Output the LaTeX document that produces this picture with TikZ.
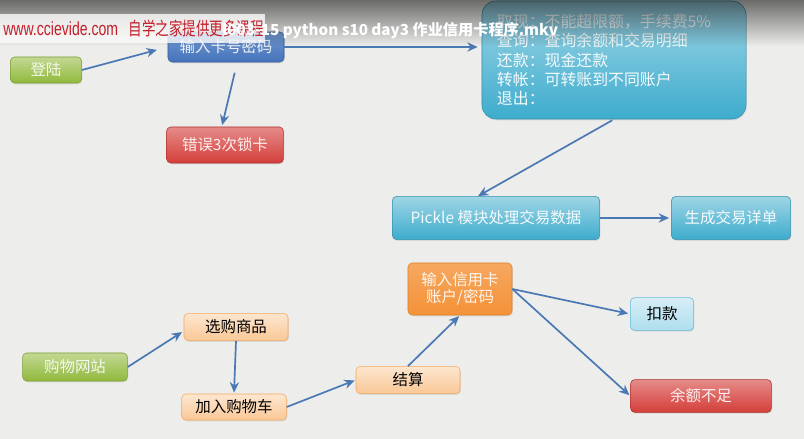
\documentclass[tikz,border=0pt]{standalone}
\usepackage{fontspec}
\setmainfont{Noto Sans CJK SC}
\setsansfont{Liberation Sans}
\usepackage{tikz}
\usetikzlibrary{arrows.meta,positioning,shadows,fadings}
\definecolor{corfundo}{RGB}{237,237,235}
\definecolor{corseta}{RGB}{74,120,180}
\definecolor{corverde}{RGB}{145,185,60}
\definecolor{corazul}{RGB}{68,116,188}
\definecolor{corvermelho}{RGB}{212,62,58}
\definecolor{corciano}{RGB}{62,172,205}
\definecolor{corlaranja}{RGB}{244,146,56}
\definecolor{corpessego}{RGB}{250,200,150}
\definecolor{corceleste}{RGB}{175,222,238}
\definecolor{cormarca}{RGB}{196,30,42}

\begin{document}
\begin{tikzpicture}[x=0.025cm, y=-0.025cm,
  caixa/.style={rectangle, rounded corners=3pt, align=center, inner sep=0pt,
                font=\fontsize{11}{13.5}\selectfont,
                drop shadow={opacity=0.2, shadow xshift=0.6pt, shadow yshift=-0.9pt}},
  verde/.style={caixa, draw=corverde!85!black, top color=corverde!55!white,
                bottom color=corverde, text=white!90!corverde},
  azul/.style={caixa, draw=corazul!80!black, top color=corazul!75!white,
               bottom color=corazul, text=white!90!corazul},
  vermelho/.style={caixa, draw=corvermelho!80!black, top color=corvermelho!60!white,
                   bottom color=corvermelho, text=white!92!corvermelho},
  ciano/.style={caixa, draw=corciano!85!black, top color=corciano!50!white,
                bottom color=corciano, text=white!95!corciano},
  laranja/.style={caixa, draw=corlaranja!90!black, top color=corlaranja!80!white,
                  bottom color=corlaranja, text=white!92!corlaranja},
  pessego/.style={caixa, draw=corlaranja!80!white, top color=corpessego!45!white,
                  bottom color=corpessego, text=black},
  celeste/.style={caixa, draw=corciano!80!white, top color=corceleste!50!white,
                  bottom color=corceleste, text=black},
  seta/.style={-{Stealth[length=2.6mm, width=2.3mm]}, line width=1.2pt, color=corseta}
]
  \fill[corfundo] (0,0) rectangle (804,439);
  \useasboundingbox (0,0) rectangle (804,439);

  % login e cartao
  \node[verde, minimum width=1.78cm, minimum height=0.65cm] (login) at (46,70) {登陆};
  \node[azul, minimum width=2.9cm, minimum height=0.75cm] (cartao) at (226,47) {输入卡号密码};
  \node[vermelho, minimum width=2.92cm, minimum height=0.9cm] (bloqueio) at (225,145) {错误3次锁卡};
  \node[ciano, rounded corners=10pt, minimum width=6.6cm, minimum height=2.95cm,
        text width=5.85cm, inner xsep=0.375cm, align=left,
        font=\fontsize{11.3}{13.6}\selectfont] (menu) at (614,60)
        {取现：不能超限额，手续费5\%\\ 查询：查询余额和交易明细\\ 还款：现金还款\\
         转帐：可转账到不同账户\\ 退出：};
  \node[ciano, minimum width=5.18cm, minimum height=1.08cm] (pickle) at (496,218) {Pickle 模块处理交易数据};
  \node[ciano, minimum width=2.98cm, minimum height=1.08cm] (extrato) at (731,218) {生成交易详单};

  % loja
  \node[verde, minimum width=2.62cm, minimum height=0.7cm] (loja) at (75,367) {购物网站};
  \node[pessego, minimum width=2.6cm, minimum height=0.68cm] (escolha) at (236,327) {选购商品};
  \node[pessego, minimum width=2.62cm, minimum height=0.65cm] (carrinho) at (234,407) {加入购物车};
  \node[pessego, minimum width=2.6cm, minimum height=0.68cm] (checkout) at (408,380) {结算};
  \node[laranja, minimum width=2.6cm, minimum height=1.3cm,
        font=\fontsize{11}{12.5}\selectfont] (credito) at (460,289) {输入信用卡\\账户/密码};
  \node[celeste, minimum width=1.58cm, minimum height=0.82cm] (debito) at (662,314) {扣款};
  \node[vermelho, minimum width=3.52cm, minimum height=0.82cm] (saldo) at (701,396) {余额不足};

  \draw[seta, shorten >=0.28cm] (login.east) -- (cartao.west);
  \draw[seta, shorten <=0.27cm, shorten >=0.04cm] ([xshift=0.28cm]cartao.south) -- ([xshift=-0.08cm]bloqueio.north);
  \draw[seta, shorten >=0.1cm] (cartao.east) -- (cartao.east -| menu.west);
  \draw[seta, shorten <=0.05cm] (menu.south) -- ([xshift=-0.45cm]pickle.north);
  \draw[seta, shorten >=0.05cm] (pickle.east) -- (extrato.west);
  \draw[seta, shorten >=0.05cm] (loja.east) -- ([yshift=-0.1cm]escolha.west);
  \draw[seta, shorten >=0.03cm] (escolha.south) -- (carrinho.north);
  \draw[seta, shorten >=0.03cm] (carrinho.east) -- (checkout.west);
  \draw[seta, shorten >=0.03cm] (checkout.north) -- (credito.south);
  \draw[seta, shorten >=0.05cm] (credito.east) -- (debito.west);
  \draw[seta, shorten >=0.03cm] (credito.east) -- (saldo.west);

  % faixa do video
  \fill[black, opacity=0.55, path fading=south] (0,0) rectangle (804,46);
  \fill[white, opacity=0.78] (0,14) rectangle (265,43);
  \node[anchor=west, inner sep=0pt, text=cormarca] (marca) at (3,29)
    {\scalebox{1}[1.35]{\fontsize{10}{11}\sffamily www.ccievide.com\hspace{0.75em}\fontsize{9.6}{11}\rmfamily 自学之家提供更多课程}};
  \node[anchor=west, inner sep=0pt, text=white, font=\fontsize{10.8}{12}\selectfont\bfseries] (titulo) at (222,31)
    {l003-15 python s10 day3 作业信用卡程序.mkv};
\end{tikzpicture}
\end{document}
